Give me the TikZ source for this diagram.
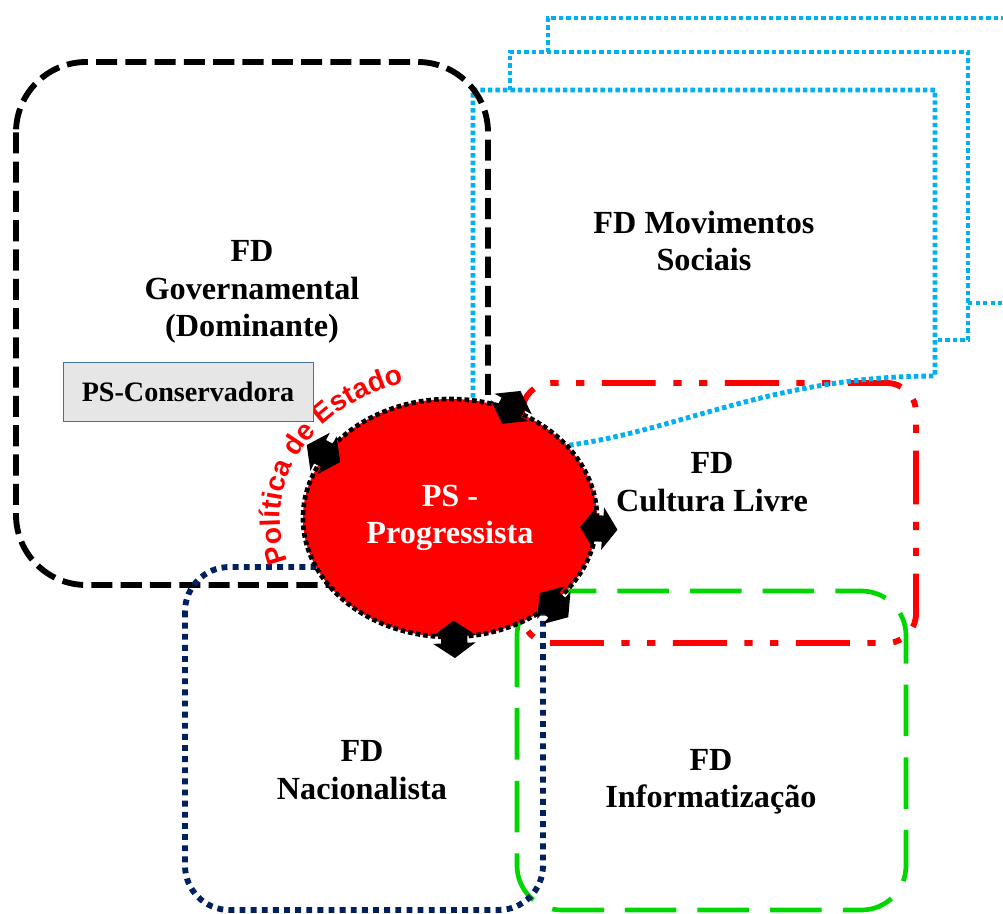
\documentclass[tikz,border=0pt]{standalone}
\usepackage{fontspec}
\setmainfont{Liberation Serif}
\newfontfamily\polfont{Liberation Sans}
\usetikzlibrary{shapes.geometric,shapes.arrows,decorations.text}
\definecolor{fdblue}{RGB}{0,176,240}
\definecolor{fdnavy}{RGB}{0,32,96}
\definecolor{fdgreen}{RGB}{0,214,0}
\definecolor{consfill}{RGB}{230,230,230}
\definecolor{consline}{RGB}{65,113,156}
\newcommand{\fdfont}{\fontsize{27.5}{32}\selectfont\bfseries}

\begin{document}
\begin{tikzpicture}[x=0.03cm,y=-0.03cm,
		govline/.style={line width=5pt,dash pattern=on 18pt off 7pt,rounded corners=60pt},
		movline/.style={fdblue,line width=4.2pt,dash pattern=on 3.8pt off 2.6pt},
		cultline/.style={red,line width=5pt,dash pattern=on 46pt off 15pt on 7pt off 15pt on 7pt off 15pt,rounded corners=25pt},
		infline/.style={fdgreen,line width=4pt,dash pattern=on 44pt off 18pt,rounded corners=38pt},
		nacline/.style={fdnavy,line width=5pt,dash pattern=on 5pt off 4.5pt,rounded corners=38pt},
		fdtext/.style={align=center,font=\fdfont},
		knob/.style={double arrow,fill=black,inner xsep=0pt,inner ysep=11pt,double arrow head extend=7pt,double arrow tip angle=110,minimum height=32pt}]
		\clip (0,0) rectangle (1003,913);
		\draw[infline] (517,591) rectangle (906,910);
		\draw[cultline] (522,383) rectangle (916,643);
		\draw[movline] (548,52) -- (548,18) -- (1020,18);
		\draw[movline] (968,303) -- (1020,303);
		\draw[movline] (510,90) -- (510,52) -- (968,52) -- (968,340) -- (935,340);
		\draw[movline] (473,450) -- (473,90) -- (935,90) -- (935,376) .. controls (790,376) and (700,420) .. (600,440) .. controls (550,450) and (500,452) .. (473,450);
		\draw[govline] (16,62) rectangle (488,585);
		\draw[nacline] (185,567) rectangle (543,910);
		\node[ellipse,fill=red,draw=black,line width=4pt,dash pattern=on 4pt off 2.5pt,minimum width=8.82cm,minimum height=7.14cm,inner sep=0pt,align=center,text=white,font=\fdfont] (prog) at (450,518) {PS -\\Progressista};
		\foreach \a [count=\i] in {61,153,356,320,272}
			\node[knob,rotate=\a] (knob\i) at (prog.\a) {};
		\path[decorate,decoration={text along path,text={|\polfont\fontsize{24}{26}\selectfont\bfseries|Política de Estado},text color=red}] (450,518) ++(162:170 and 140) arc[start angle=162,end angle=268,x radius=170,y radius=140];
		\node[fdtext] (gov) at (252,292) {FD\\Governamental\\(Dominante)};
		\node[fdtext] (mov) at (704,241) {FD Movimentos\\Sociais};
		\node[fdtext] (cult) at (712,482) {FD\\Cultura Livre};
		\node[fdtext] (nac) at (362,770) {FD\\Nacionalista};
		\node[fdtext] (inf) at (711,782) {FD\\Informatização};
		\node[draw=consline,fill=consfill,line width=0.8pt,minimum width=7.5cm,minimum height=1.77cm,font=\fontsize{24}{28}\selectfont\bfseries] (cons) at (188,391.5) {PS-Conservadora};
	\end{tikzpicture}
\end{document}
